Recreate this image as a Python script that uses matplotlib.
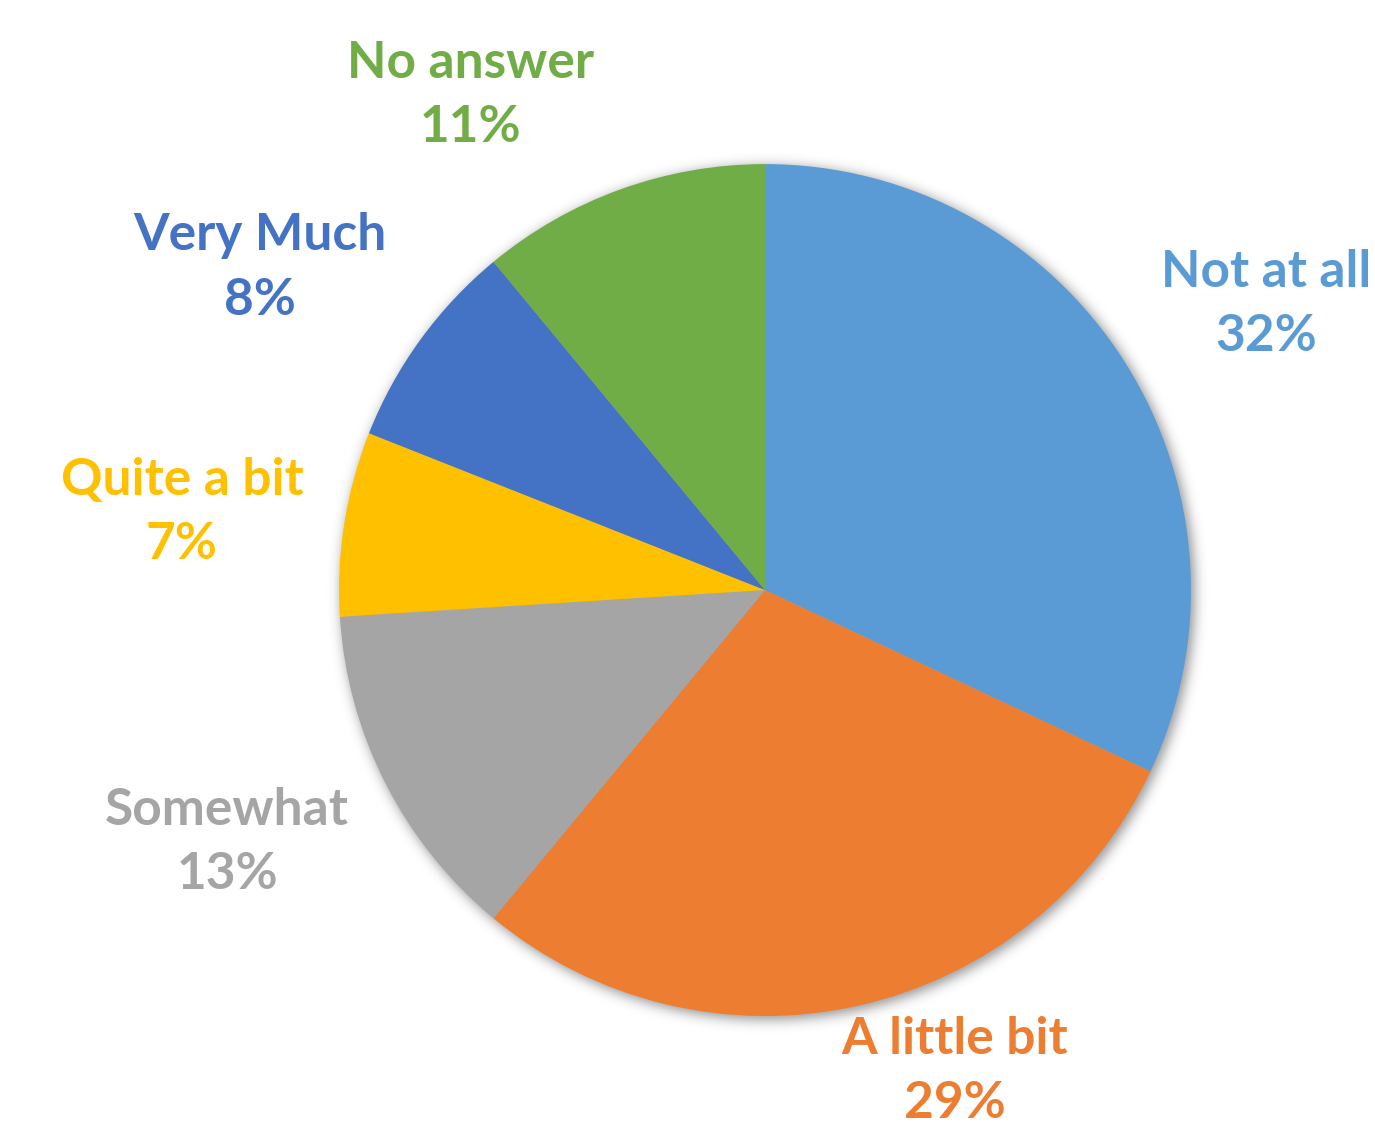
import numpy as np
import matplotlib
matplotlib.use('Agg')
from matplotlib import pyplot as plt

# Survey answers, clockwise from 12 o'clock
categories = ['Not at all', 'A little bit', 'Somewhat', 'Quite a bit', 'Very Much', 'No answer']
shares = [32, 29, 13, 7, 8, 11]
colors = ['#5B9BD5', '#ED7D31', '#A5A5A5', '#FFC000', '#4472C4', '#70AD47']

# label anchor points (pie radius = 1)
label_pos = [(1.176, 0.671), (0.446, -1.131), (-1.263, -0.592),
             (-1.369, 0.183), (-1.185, 0.756), (-0.692, 1.162)]

fig = plt.figure(figsize=(13.75, 11.26), dpi=100)
ax = fig.add_axes([0, 0, 1, 1])

# soft drop shadow behind the pie
gx, gy = np.meshgrid(np.linspace(-1.2, 1.2, 600), np.linspace(-1.2, 1.2, 600))
r = np.hypot(gx - 0.006, gy + 0.008)
alpha = np.clip(np.exp(-((r - 0.985) / 0.025) ** 2), 0, 1) * 0.35
alpha[r < 0.985] = 0.35
shadow = np.zeros((600, 600, 4))
shadow[..., 3] = alpha
ax.imshow(shadow, extent=(-1.2, 1.2, -1.2, 1.2), origin='lower', zorder=0)

ax.pie(shares, colors=colors, startangle=90, counterclock=False, radius=1.0,
       wedgeprops=dict(linewidth=0), center=(0, 0), frame=True)
ax.set_xlim(-1.796, 1.432)
ax.set_ylim(-1.258, 1.385)
ax.set_aspect('equal')
ax.axis('off')

for name, val, col, (lx, ly) in zip(categories, shares, colors, label_pos):
    ax.text(lx, ly, f'{name}\n{val}%', color=col, ha='center', va='center',
            fontsize=37, fontweight='bold', family='Lato', linespacing=1.45)

plt.savefig('out.png', dpi=100)
plt.close(fig)
